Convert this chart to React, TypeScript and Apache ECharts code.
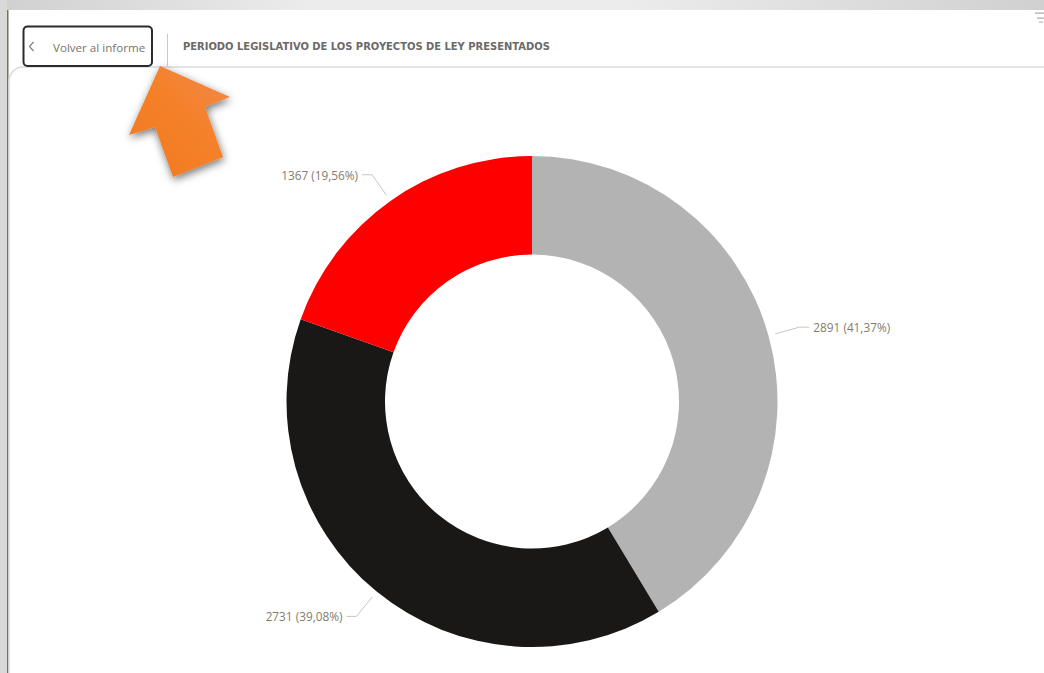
import React, { useEffect, useRef } from "react";
import * as echarts from "echarts";

const categories = ["Periodo A", "Periodo B", "Periodo C"];
const values = [2891, 2731, 1367];
const percentLabels = ["41,37%", "39,08%", "19,56%"];
const sliceColors = ["#b3b3b3", "#1a1817", "#ff0000"];
const title = "PERIODO LEGISLATIVO DE LOS PROYECTOS DE LEY PRESENTADOS";
const backLabel = "Volver al informe";
const LABEL_FONT = "'Open Sans', sans-serif";

export default function App() {
  const ref = useRef<HTMLDivElement>(null);
  useEffect(() => {
    if (!ref.current) return;
    const chart = echarts.init(ref.current, undefined, { renderer: "svg" });
    const option: any = {
      animation: false,
      backgroundColor: "#ffffff",
      graphic: [
        { type: "rect", silent: true, z: 1, shape: { x: 0, y: 0, width: 1044, height: 10 },
          style: { fill: new echarts.graphic.LinearGradient(0, 0, 1, 0, [
            { offset: 0, color: "#d0d0d0" }, { offset: 0.3, color: "#ececec" }, { offset: 0.6, color: "#ececec" }, { offset: 1, color: "#d0d0d0" } ]) } },
        { type: "rect", silent: true, z: 1, shape: { x: 0, y: 0, width: 7, height: 673 }, style: { fill: "#d9d9d9" } },
        { type: "rect", silent: true, z: 2, shape: { x: 7, y: 10, width: 1.5, height: 663 }, style: { fill: "#7d6f58" } },
        { type: "rect", silent: true, z: 2, shape: { x: 9, y: 67, width: 1060, height: 640, r: 14 },
          style: { fill: "#ffffff", stroke: "#dcdcdc", lineWidth: 1.5 } },
        { type: "rect", silent: true, z: 3, shape: { x: 23.5, y: 26.5, width: 128.5, height: 39.5, r: 4 },
          style: { fill: "#ffffff", stroke: "#2b2b2b", lineWidth: 2 } },
        { type: "polyline", silent: true, z: 3, shape: { points: [[33.5, 42], [29.5, 46.5], [33.5, 51]] },
          style: { stroke: "#7f7f7f", lineWidth: 1.2, fill: "none" } },
        { type: "text", silent: true, z: 3, x: 53, y: 47,
          style: { text: backLabel, font: `11.6px ${LABEL_FONT}`, fill: "#77736c", verticalAlign: "middle" } },
        { type: "line", silent: true, z: 3, shape: { x1: 167.5, y1: 34, x2: 167.5, y2: 66 },
          style: { stroke: "#c8c8c8", lineWidth: 1 } },
        { type: "text", silent: true, z: 3, x: 183, y: 46.5,
          style: { text: title, font: "bold 9.95px 'DejaVu Sans', sans-serif", fill: "#6a6a6a", verticalAlign: "middle" } },
        { type: "rect", silent: true, z: 3, shape: { x: 1035, y: 12.5, width: 9, height: 1.2 }, style: { fill: "#a8a8a8" } },
        { type: "rect", silent: true, z: 3, shape: { x: 1037, y: 17.5, width: 7, height: 1.2 }, style: { fill: "#a8a8a8" } },
        { type: "rect", silent: true, z: 3, shape: { x: 1039, y: 21.5, width: 4, height: 1.2 }, style: { fill: "#b8b8b8" } },
        { type: "polygon", silent: true, z: 10,
          shape: { points: [[160, 66], [230, 97], [205, 107], [223, 157], [173, 177], [155, 127], [129, 135]] },
          style: {
            fill: new echarts.graphic.LinearGradient(0, 1, 1, 0, [
              { offset: 0, color: "#f07a22" }, { offset: 0.55, color: "#f58029" }, { offset: 1, color: "#f08a4a" } ]),
            shadowBlur: 8, shadowColor: "rgba(0,0,0,0.55)", shadowOffsetX: 1, shadowOffsetY: 3 } },
      ],
      series: [
        {
          type: "pie",
          z: 5,
          center: [532, 401.5],
          radius: [147, 245.5],
          startAngle: 90,
          clockwise: true,
          avoidLabelOverlap: false,
          silent: true,
          data: categories.map((name, i) => ({
            name,
            value: values[i],
            itemStyle: { color: sliceColors[i] },
          })),
          label: {
            show: true,
            position: "outside",
            distanceToLabelLine: 4,
            formatter: (p: any) => `${values[p.dataIndex]} (${percentLabels[p.dataIndex]})`,
            fontFamily: "Open Sans",
            fontSize: 11.8,
            color: "#837b6e",
          },
          labelLine: {
            show: true,
            length: 32,
            length2: 10,
            smooth: false,
            lineStyle: { color: "#c9c5be", width: 1 },
          },
          labelLayout: (p: any) => {
            const pts = p.labelLinePoints;
            if (!pts) return {};
            const [a, b, c] = pts;
            const dx = b[0] - a[0];
            const dy = b[1] - a[1];
            const len = Math.hypot(dx, dy) || 1;
            const gap = 7;
            return {
              labelLinePoints: [[a[0] + (dx / len) * gap, a[1] + (dy / len) * gap], b, c],
            };
          },
        },
      ],
    };
    chart.setOption(option);
    return () => chart.dispose();
  }, []);
  return <div ref={ref} style={{ position: "fixed", left: 0, top: 0, width: 1044, height: 673 }} />;
}
